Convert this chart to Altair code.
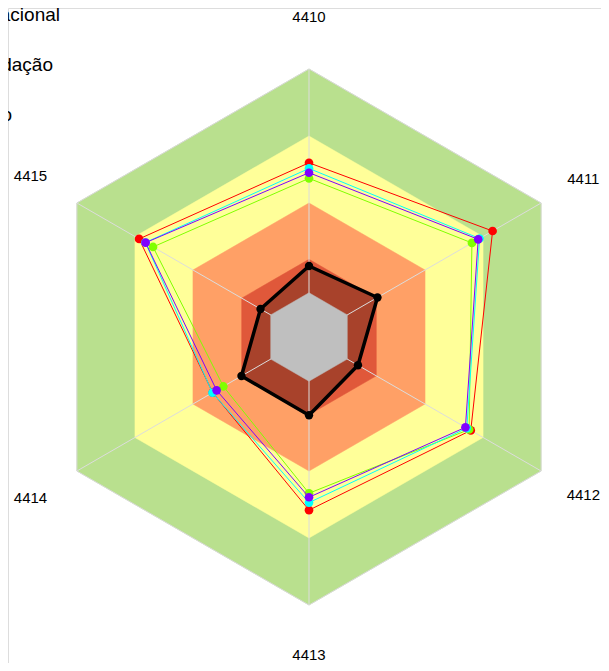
import altair as alt
import pandas as pd

axis_labels = ["4410", "4411", "4412", "4413", "4414", "4415"]

series_names = ["Série 1", "Série 2", "Série 3", "Série 4"]
red_values = [65.0, 79.1, 69.7, 64.6, 41.5, 73.2]
green_values = [59.2, 70.2, 69.0, 58.3, 36.9, 67.2]
cyan_values = [62.9, 73.5, 68.0, 61.8, 41.6, 70.5]
purple_values = [61.3, 72.9, 67.4, 59.8, 39.8, 70.4]
series_colors = ["#ff0000", "#80ff00", "#00ffff", "#8000ff"]

black_values = [26.5, 29.5, 21.1, 29.2, 29.1, 20.9]

band_levels = [100, 75, 50, 29]
band_colors = ["#b9e08e", "#ffff99", "#ffa066", "#e0583a"]
inner_level = 16.5
inner_color = "#bfbfbf"

legend_labels = ["Média Nacional", "Média da Fundação", "Município"]
label_radii = [119.3, 118.2, 118.2, 118.6, 120, 120]

W, H = 593, 655
CX, CY = 301, 329
PX_PER_UNIT = 2.68
x_domain = [-CX / PX_PER_UNIT, (W - CX) / PX_PER_UNIT]
y_domain = [-(H - CY) / PX_PER_UNIT, CY / PX_PER_UNIT]


def ring(values, close=True):
    n = 7 if close else 6
    rows = []
    for k in range(n):
        i = k % 6
        rows.append({"idx": i, "order": k, "value": values[i], "label": axis_labels[i]})
    return pd.DataFrame(rows)


def polar(chart):
    return chart.transform_calculate(
        theta="PI/2 - datum.idx*PI/3"
    ).transform_calculate(
        px="datum.value*cos(datum.theta)",
        py="datum.value*sin(datum.theta)",
    )


X = alt.X("px:Q", scale=alt.Scale(domain=x_domain, nice=False, zero=False), axis=None)
Y = alt.Y("py:Q", scale=alt.Scale(domain=y_domain, nice=False, zero=False), axis=None)

layers = []

# background bands
for lvl, col in zip(band_levels, band_colors):
    layers.append(
        polar(alt.Chart(ring([lvl] * 6)).mark_line(fill=col, stroke=col, strokeWidth=0.5))
        .encode(x=X, y=Y, order="order:Q")
    )

# black series fill
layers.append(
    polar(alt.Chart(ring(black_values)).mark_line(fill="black", fillOpacity=0.25, strokeWidth=0))
    .encode(x=X, y=Y, order="order:Q")
)

# spokes
spoke_df = pd.DataFrame({"idx": list(range(6)), "value": [100] * 6, "zero": [0.0] * 6})
layers.append(
    polar(alt.Chart(spoke_df).mark_rule(color="#dcdcdc", strokeWidth=1))
    .encode(x=X, y=Y, x2="zero:Q", y2="zero:Q")
)

# outer outline
layers.append(
    polar(alt.Chart(ring([100] * 6)).mark_line(color="#d8d8d8", strokeWidth=1))
    .encode(x=X, y=Y, order="order:Q")
)

# inner gray hexagon
layers.append(
    polar(alt.Chart(ring([inner_level] * 6)).mark_line(fill=inner_color, stroke=inner_color, strokeWidth=0.5))
    .encode(x=X, y=Y, order="order:Q")
)

# coloured series
for vals, col in zip([red_values, green_values, cyan_values, purple_values], series_colors):
    layers.append(
        polar(alt.Chart(ring(vals)).mark_line(color=col, strokeWidth=1))
        .encode(x=X, y=Y, order="order:Q")
    )
    layers.append(
        polar(alt.Chart(ring(vals, close=False)).mark_point(filled=True, color=col, size=75, opacity=1))
        .encode(x=X, y=Y)
    )

# black series
layers.append(
    polar(alt.Chart(ring(black_values)).mark_line(color="black", strokeWidth=3.5, strokeJoin="round"))
    .encode(x=X, y=Y, order="order:Q")
)
layers.append(
    polar(alt.Chart(ring(black_values, close=False)).mark_point(filled=True, color="black", size=70, opacity=1))
    .encode(x=X, y=Y)
)

# axis labels
label_df = pd.DataFrame({"idx": list(range(6)), "value": label_radii, "label": axis_labels})
layers.append(
    polar(alt.Chart(label_df).mark_text(font="Liberation Sans", fontSize=15, color="black",
                                        align="center", baseline="middle"))
    .encode(x=X, y=Y, text="label:N")
)

# legend texts, clipped at the left edge as in the reference
legend_x = [52, 45, 4]
legend_y = [7, 57, 107]
for name, lx, ly in zip(legend_labels, legend_x, legend_y):
    layers.append(
        alt.Chart(pd.DataFrame({"name": [name]})).mark_text(
            font="Liberation Sans", fontSize=19, color="black", align="right", baseline="middle"
        ).encode(x=alt.value(lx), y=alt.value(ly), text="name:N")
    )

chart = alt.layer(*layers).properties(
    width=W, height=H, padding=0,
    autosize=alt.AutoSizeParams(type="none"),
).configure_view(strokeWidth=0, stroke="transparent").configure(background="white")

chart.save("out.html", embed_options={"renderer": "svg", "actions": False})
